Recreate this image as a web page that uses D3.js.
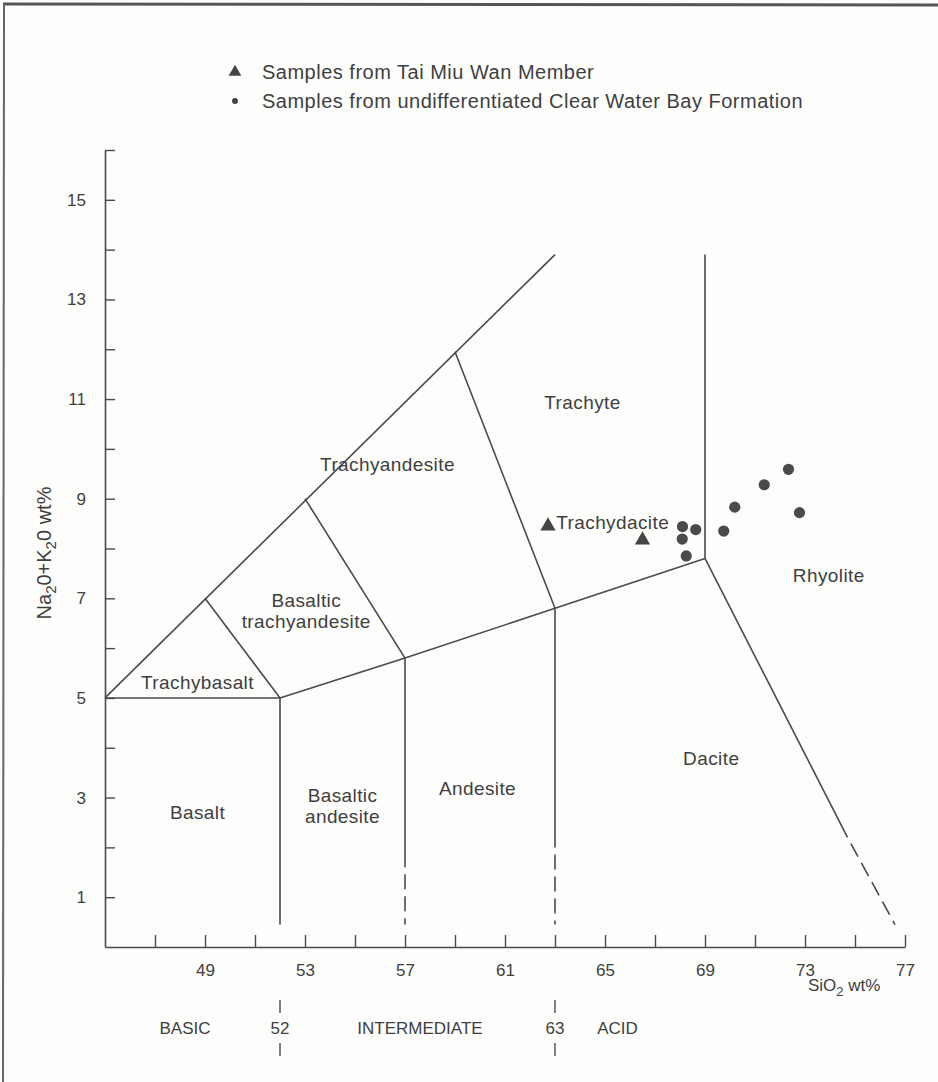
<!DOCTYPE html>
<html>
<head>
<meta charset="utf-8">
<script src="https://cdn.jsdelivr.net/npm/d3@7"></script>
<style>
  html, body { margin: 0; padding: 0; background: #fdfdfc; }
  svg { display: block; }
  text { font-family: "Liberation Sans", Arial, Helvetica, sans-serif; fill: #3f3f3f; }
</style>
</head>
<body>
<svg id="chart" width="938" height="1082"></svg>
<script>
// ---------- DATA ----------
const xTickValues = [47, 49, 51, 53, 55, 57, 59, 61, 63, 65, 67, 69, 71, 73, 75, 77];
const xTickLabels = [49, 53, 57, 61, 65, 69, 73, 77];
const yTickValues = [1, 2, 3, 4, 5, 6, 7, 8, 9, 10, 11, 12, 13, 14, 15, 16];
const yTickLabels = [1, 3, 5, 7, 9, 11, 13, 15];

// Field boundaries (SiO2, Na2O+K2O)
const solidBoundaries = [
  [[45, 5], [63, 13.9]],
  [[45, 5], [52, 5]],
  [[49, 7], [52, 5]],
  [[53, 9], [57, 5.8]],
  [[59, 11.95], [63, 6.8]],
  [[52, 5], [57, 5.8], [63, 6.8], [69, 7.8]],
  [[69, 7.8], [69, 13.9]],
  [[52, 5], [52, 0.45]],
  [[57, 5.8], [57, 1.6]],
  [[63, 6.8], [63, 2.0]],
  [[69, 7.8], [74.7, 2.2]]
];
const dashedBoundaries = [
  [[57, 1.6], [57, 0.45]],
  [[63, 2.0], [63, 0.45]],
  [[74.7, 2.2], [76.6, 0.45]]
];

// Field names and label anchors (SiO2, Na2O+K2O) – baseline of first line
const fieldNames = [
  { lines: ["Trachyte"], at: [64.1, 10.8] },
  { lines: ["Trachyandesite"], at: [56.3, 9.55] },
  { lines: ["Basaltic", "trachyandesite"], at: [53.05, 6.83] },
  { lines: ["Trachybasalt"], at: [48.7, 5.18] },
  { lines: ["Rhyolite"], at: [73.95, 7.33] },
  { lines: ["Dacite"], at: [69.25, 3.65] },
  { lines: ["Andesite"], at: [59.9, 3.05] },
  { lines: ["Basaltic", "andesite"], at: [54.5, 2.92] },
  { lines: ["Basalt"], at: [48.7, 2.57] }
];
const trachydaciteLabel = { text: "Trachydacite", at: [63.05, 8.4] };

// Samples
const taiMiuWan = [[62.72, 8.45], [66.5, 8.17]];
const clearWaterBay = [
  [68.1, 8.44], [68.63, 8.38], [68.09, 8.19], [68.25, 7.85],
  [69.75, 8.35], [70.19, 8.83], [71.37, 9.28], [72.34, 9.59], [72.78, 8.72]
];

const legendItems = [
  { shape: "triangle", label: "Samples from Tai Miu Wan Member" },
  { shape: "circle", label: "Samples from undifferentiated Clear Water Bay Formation" }
];

const silicaClasses = ["BASIC", "INTERMEDIATE", "ACID"];
const silicaClassCentres = [48.2, 57.6, 65.5];
const silicaBreaks = [52, 63];

// ---------- DRAWING ----------
const svg = d3.select("#chart");
const ink = "#4a4a4a";

// frame
svg.append("line").attr("x1", 3).attr("x2", 938).attr("y1", 4).attr("y2", 5)
  .attr("stroke", "#555").attr("stroke-width", 3);
svg.append("line").attr("x1", 4).attr("x2", 3).attr("y1", 4).attr("y2", 1082)
  .attr("stroke", "#666").attr("stroke-width", 2);

const x = d3.scaleLinear().domain([45, 77]).range([105, 905]);
const y = d3.scaleLinear().domain([0, 16]).range([947, 150]);

// axes
const xAxis = d3.axisBottom(x)
  .tickValues(xTickValues)
  .tickSize(-12)
  .tickSizeOuter(0)
  .tickPadding(17)
  .tickFormat(d => xTickLabels.includes(d) ? d : "");
const gx = svg.append("g").attr("transform", `translate(0,${y(0)})`).call(xAxis);

const yAxis = d3.axisLeft(y)
  .tickValues(yTickValues)
  .tickSize(-10)
  .tickSizeOuter(0)
  .tickPadding(19)
  .tickFormat(d => yTickLabels.includes(d) ? d : "");
const gy = svg.append("g").attr("transform", `translate(${x(45)},0)`).call(yAxis);

[gx, gy].forEach(g => {
  g.select(".domain").attr("stroke", ink).attr("stroke-width", 1.6);
  g.selectAll(".tick line").attr("stroke", ink).attr("stroke-width", 1.4);
  g.selectAll(".tick text").attr("fill", "#444")
    .style("font-family", '"Liberation Sans", Arial, sans-serif').style("font-size", "17px");
});

// boundaries
const line = d3.line().x(d => x(d[0])).y(d => y(d[1]));
svg.append("g").selectAll("path").data(solidBoundaries).join("path")
  .attr("d", line).attr("fill", "none").attr("stroke", ink).attr("stroke-width", 1.6);
svg.append("g").selectAll("path").data(dashedBoundaries).join("path")
  .attr("d", line).attr("fill", "none").attr("stroke", ink).attr("stroke-width", 1.6)
  .attr("stroke-dasharray", "15,7").attr("stroke-dashoffset", 15);

// field labels
const fl = svg.append("g").style("font-size", "19px").style("letter-spacing", "0.4px");
fieldNames.forEach(f => {
  const t = fl.append("text")
    .attr("x", x(f.at[0])).attr("y", y(f.at[1]))
    .attr("text-anchor", "middle");
  f.lines.forEach((s, i) => {
    t.append("tspan").attr("x", x(f.at[0])).attr("dy", i === 0 ? 0 : 21).text(s);
  });
});
fl.append("text").attr("x", x(trachydaciteLabel.at[0])).attr("y", y(trachydaciteLabel.at[1]))
  .text(trachydaciteLabel.text);

// samples
const tri = d3.symbol().type(d3.symbolTriangle).size(100);
svg.append("g").selectAll("path").data(taiMiuWan).join("path")
  .attr("d", tri)
  .attr("transform", d => `translate(${x(d[0])},${y(d[1])})`)
  .attr("fill", "#444");
svg.append("g").selectAll("circle").data(clearWaterBay).join("circle")
  .attr("cx", d => x(d[0])).attr("cy", d => y(d[1])).attr("r", 5.6)
  .attr("fill", "#4a4a4a");

// legend
const lg = svg.append("g");
legendItems.forEach((it, i) => {
  const cy = 72 + i * 29;
  if (it.shape === "triangle") {
    lg.append("path").attr("d", d3.symbol().type(d3.symbolTriangle).size(70))
      .attr("transform", `translate(235,${cy})`).attr("fill", "#444");
  } else {
    lg.append("circle").attr("cx", 235).attr("cy", cy).attr("r", 3).attr("fill", "#444");
  }
  lg.append("text").attr("x", 262).attr("y", cy + 7)
    .style("font-size", "20px").style("letter-spacing", "0.5px").text(it.label);
});

// axis titles
const yt = svg.append("text")
  .attr("transform", `translate(51,553) rotate(-90)`)
  .attr("text-anchor", "middle").style("font-size", "20px");
yt.append("tspan").text("Na");
yt.append("tspan").attr("dy", 5).style("font-size", "15px").text("2");
yt.append("tspan").attr("dy", -5).text("0+K");
yt.append("tspan").attr("dy", 5).style("font-size", "15px").text("2");
yt.append("tspan").attr("dy", -5).text("0 wt%");

const xt = svg.append("text").attr("x", 808).attr("y", 991).style("font-size", "17px");
xt.append("tspan").text("SiO");
xt.append("tspan").attr("dy", 5).style("font-size", "13px").text("2");
xt.append("tspan").attr("dy", -5).text(" wt%");

// silica classes
const sc = svg.append("g").style("font-size", "17px");
silicaClasses.forEach((s, i) => {
  sc.append("text").attr("x", x(silicaClassCentres[i])).attr("y", 1034)
    .attr("text-anchor", "middle").text(s);
});
silicaBreaks.forEach(b => {
  sc.append("text").attr("x", x(b)).attr("y", 1034)
    .attr("text-anchor", "middle").text(b);
  [[1000, 1013], [1043, 1056]].forEach(([a, c]) => {
    sc.append("line").attr("x1", x(b)).attr("x2", x(b)).attr("y1", a).attr("y2", c)
      .attr("stroke", ink).attr("stroke-width", 1.4);
  });
});
</script>
</body>
</html>
